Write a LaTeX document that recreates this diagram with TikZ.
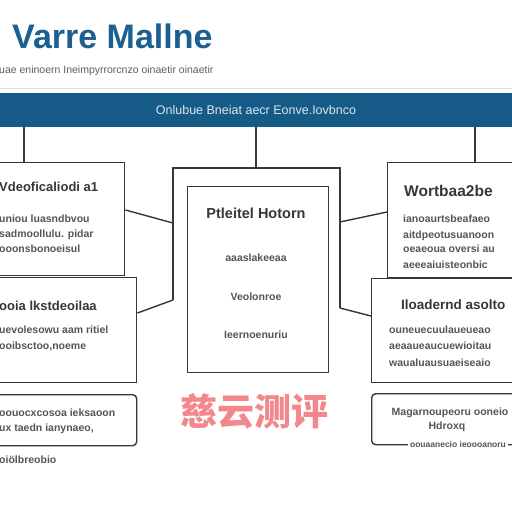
\documentclass[tikz,border=0pt]{standalone}
\usepackage{fontspec}
\setmainfont{Liberation Sans}
\newfontfamily\cjk{Noto Sans CJK SC}
\definecolor{barc}{RGB}{22,90,135}
\definecolor{titlec}{RGB}{28,96,145}
\definecolor{linec}{RGB}{55,55,55}
\definecolor{txt}{RGB}{55,55,55}
\definecolor{subc}{RGB}{95,95,95}
\definecolor{wm}{RGB}{242,135,140}
\begin{document}
\begin{tikzpicture}[x=1pt,y=-1pt,
  box/.style={draw=linec,line width=1.4pt,fill=white,inner sep=0,anchor=north west},
  rbox/.style={box,rounded corners=4pt},
  conn/.style={draw=linec,line width=1.4pt},
  head/.style={font=\bfseries\fontsize{13}{13}\selectfont,text=txt,inner sep=0,anchor=base west},
  body/.style={font=\bfseries\fontsize{10.5}{10.5}\selectfont,text=txt!85,inner sep=0,anchor=base west},
  cbody/.style={body,anchor=base}]
\useasboundingbox (0,0) rectangle (512,512);
\fill[white] (0,0) rectangle (512,512);

% title and subtitle
\node (title) [anchor=base west,inner sep=0,text=titlec,font=\bfseries\fontsize{34}{34}\selectfont] at (12,48) {Varre Mallne};
\node (sub) [anchor=base west,inner sep=0,text=subc,font=\fontsize{10.5}{10.5}\selectfont] at (-1,73) {uae eninoern Ineimpyrrorcnzo oinaetir oinaetir};
\draw[draw=black!12,line width=0.8pt] (0,88) -- (512,88);

% banner
\node (bar) [fill=barc,minimum width=512pt,minimum height=34pt,anchor=north west,inner sep=0] at (0,93) {};
\node (bartxt) [text=white!85!barc,font=\fontsize{12.5}{12.5}\selectfont,inner sep=0] at (256,110) {Onlubue Bneiat aecr Eonve.Iovbnco};

% boxes
\node (L1) [box,minimum width=129pt,minimum height=113pt] at (-5,162) {};
\node (L2) [box,minimum width=141pt,minimum height=105pt] at (-5,277) {};
\node (R1) [box,minimum width=130pt,minimum height=115pt] at (387,162) {};
\node (R2) [box,minimum width=146pt,minimum height=104pt] at (371,278) {};
\node (C) [box,minimum width=141pt,minimum height=186pt] at (187,186) {};
\node (BL) [rbox,minimum width=141pt,minimum height=51pt] at (-5,394) {};
\node (BR) [rbox,minimum width=146pt,minimum height=51pt] at (371,393) {};

% helper coordinates
\coordinate (x24) at (24,0);
\coordinate (x256) at (256,0);
\coordinate (x475) at (475,0);
\coordinate (fl) at (173,168);
\coordinate (fr) at (340,168);
\coordinate (flb) at (173,300);
\coordinate (frb) at (340,308);
\coordinate (l1c) at (173,223);
\coordinate (r1c) at (340,222);

% connectors
\draw[conn] (x24 |- bar.south) -- (x24 |- L1.north);
\draw[conn] (x475 |- bar.south) -- (x475 |- R1.north);
\draw[conn] (x256 |- bar.south) -- (x256 |- fl);
\draw[conn] (flb) -- (fl) -- (fr) -- (frb);
\draw[conn] (L1.east |- 0,210) -- (l1c);
\draw[conn] (L2.east |- 0,313) -- (flb);
\draw[conn] (r1c) -- (R1.west |- 0,212);
\draw[conn] (frb) -- (R2.west |- 0,316);

% left box 1 text
\node (l1h) [head] at (-1,191) {Vdeoficaliodi a1};
\node (l1a) [body] at (-1,222) {uniou luasndbvou};
\node (l1b) [body] at (-1,237) {sadmoollulu. pidar};
\node (l1c2) [body] at (-1,252) {ooonsbonoeisul};

% left box 2 text
\node (l2h) [head] at (-1,310) {ooia lkstdeoilaa};
\node (l2a) [body] at (-1,333) {uevolesowu aam ritiel};
\node (l2b) [body] at (-1,349) {ooibsctoo,noeme};

% centre box text
\node (ch) [head,anchor=base,font=\bfseries\fontsize{14.5}{14.5}\selectfont] at (256,218) {Ptleitel Hotorn};
\node (ca) [cbody] at (256,261) {aaaslakeeaa};
\node (cb) [cbody] at (256,300) {Veolonroe};
\node (cc) [cbody] at (256,338) {Ieernoenuriu};

% right box 1 text
\node (r1h) [head,font=\bfseries\fontsize{15.5}{15.5}\selectfont] at (404,196) {Wortbaa2be};
\node (r1a) [body] at (403,222) {ianoaurtsbeafaeo};
\node (r1b) [body] at (403,238) {aitdpeotusuanoon};
\node (r1d) [body] at (403,252) {oeaeoua oversi au};
\node (r1e) [body] at (403,268) {aeeeaiuisteonbic};

% right box 2 text
\node (r2h) [head,font=\bfseries\fontsize{13.5}{13.5}\selectfont] at (401,309) {Iloadernd asolto};
\node (r2a) [body] at (389,333) {ouneuecuulaueueao};
\node (r2b) [body] at (389,349) {aeaaueaucuewioitau};
\node (r2c) [body] at (389,366) {waualuausuaeiseaio};

% bottom left text
\node (bla) [body] at (-1,416) {oouocxcosoa ieksaoon};
\node (blb) [body] at (-1,431) {ux taedn ianynaeo,};
\node (blc) [body] at (-1,463) {oiölbreobio};

% bottom right text
\node (bra) [body,anchor=base] at (450,415) {Magarnoupeoru ooneio};
\node (brb) [body,anchor=base] at (447,429) {Hdroxq};
\node (brc) [body,anchor=base,font=\bfseries\fontsize{8.5}{8.5}\selectfont,fill=white,inner xsep=2pt,inner ysep=1pt] at (458,447) {oouaanecio ieoooanoru};

% watermark
\node (wm) [text=wm,font=\cjk\bfseries\fontsize{37}{37}\selectfont,inner sep=0] at (254,411) {慈云测评};
\end{tikzpicture}
\end{document}
